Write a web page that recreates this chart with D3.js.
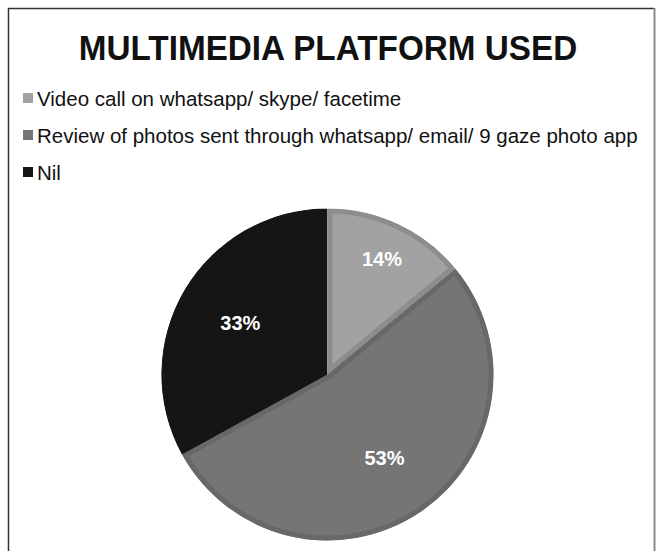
<!DOCTYPE html>
<html>
<head>
<meta charset="utf-8">
<script src="https://cdn.jsdelivr.net/npm/d3@7"></script>
<style>
  html, body { margin: 0; padding: 0; background: #fff; }
  svg { display: block; }
</style>
</head>
<body>
<svg id="chart" width="657" height="551"></svg>
<script>
// Chart data
const title = "MULTIMEDIA PLATFORM USED";
const categories = [
  "Video call on whatsapp/ skype/ facetime",
  "Review of photos sent through whatsapp/ email/ 9 gaze photo app",
  "Nil"
];
const shares = [14, 53, 33];
const valueLabels = ["14%", "53%", "33%"];

// Slice styling
const fills = ["#a2a2a2", "#757575", "#151515"];
const rims = ["#8d8d8d", "#686868", "#151515"];

const W = 657, H = 551;
const svg = d3.select("#chart");
const font = "'Liberation Sans', Arial, sans-serif";

// Frame
svg.append("line").attr("x1", 8.5).attr("y1", 8.5).attr("x2", 654).attr("y2", 8.5)
  .attr("stroke", "#333").attr("stroke-width", 1.5);
svg.append("line").attr("x1", 8.5).attr("y1", 8).attr("x2", 8.5).attr("y2", H)
  .attr("stroke", "#333").attr("stroke-width", 1.5);
svg.append("line").attr("x1", 654.5).attr("y1", 8).attr("x2", 654.5).attr("y2", H)
  .attr("stroke", "#8a8a8a").attr("stroke-width", 2);

// Title, drawn slightly narrowed
svg.append("text")
  .attr("transform", "translate(328,60) scale(0.925,1)")
  .attr("text-anchor", "middle")
  .attr("font-family", font).attr("font-weight", "bold")
  .attr("font-size", 36)
  .attr("fill", "#111")
  .text(title);

// Legend
const legendY = d3.scalePoint().domain(categories).range([98, 172]);
const legend = svg.append("g");
categories.forEach((c, i) => {
  const y = legendY(c);
  legend.append("rect")
    .attr("x", 23).attr("y", y - 5).attr("width", 10).attr("height", 10)
    .attr("fill", fills[i]);
  legend.append("text")
    .attr("x", 37).attr("y", y + 7.5)
    .attr("font-family", font).attr("font-size", 20.5)
    .attr("fill", "#111")
    .text(c);
});

// Pie
const cx = 327.5, cy = 374.5, r = 166;
const pie = d3.pie().sort(null).value(d => d);
const arcs = pie(shares);
const arc = d3.arc().innerRadius(0).outerRadius(r);

const g = svg.append("g").attr("transform", `translate(${cx},${cy})`);
const defs = svg.append("defs");

arcs.forEach((a, i) => {
  const id = "clip" + i;
  defs.append("clipPath").attr("id", id)
    .append("path").attr("d", arc(a));
  g.append("path")
    .attr("d", arc(a))
    .attr("fill", fills[i])
    .attr("stroke", rims[i])
    .attr("stroke-width", 10)
    .attr("stroke-linejoin", "miter")
    .attr("clip-path", `url(#${id})`);
});

// Value labels: narrow slices sit further out
g.selectAll("text.val")
  .data(arcs)
  .join("text")
  .attr("class", "val")
  .attr("transform", d => {
    const frac = (d.endAngle - d.startAngle) / (2 * Math.PI);
    const lr = frac < 0.2 ? r * 0.77 : r * 0.61;
    const c = d3.arc().innerRadius(lr).outerRadius(lr).centroid(d);
    return `translate(${c[0]},${c[1]})`;
  })
  .attr("text-anchor", "middle")
  .attr("dy", "0.36em")
  .attr("font-family", font).attr("font-weight", "bold")
  .attr("font-size", 20)
  .attr("fill", "#fff")
  .text((d, i) => valueLabels[i]);
</script>
</body>
</html>
